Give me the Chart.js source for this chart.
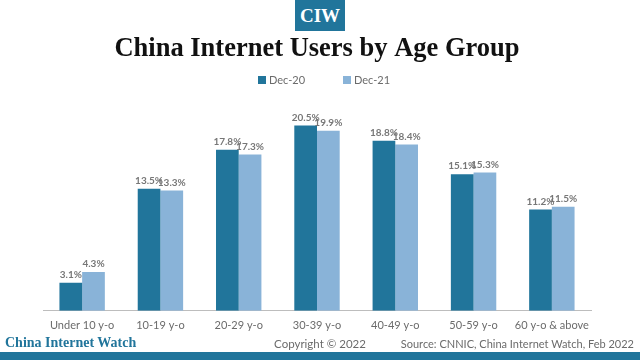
<!DOCTYPE html>
<html>
<head>
<meta charset="utf-8">
<script src="https://cdn.jsdelivr.net/npm/chart.js@4"></script>
<style>
  body { margin: 0; background: #fff; }
  #wrap { position: relative; width: 640px; height: 360px; overflow: hidden; }
  #logo { position: absolute; left: 295px; top: 0; width: 50px; height: 31px; background: #21759b;
          color: #fff; font: bold 19px 'Liberation Serif', serif; text-align: center; line-height: 31px; }
  .foot { position: absolute; top: 337px; font-size: 11px; color: #6b6b6b; font-family: Lato, sans-serif; }
  #brand { left: 5px; top: 335px; color: #21759b; font: bold 14px 'Liberation Serif', serif; }
  #copy { left: 0; width: 640px; text-align: center; font-size: 11.5px; }
  #src { right: 6px; }
  #band { position: absolute; left: 0; top: 352px; width: 640px; height: 8px; background: #21759b; }
  .leg { position: absolute; top: 73px; font: 11px Lato, sans-serif; color: #6b6b6b; }
  .leg i { display: inline-block; width: 8px; height: 8px; margin-right: 3px; vertical-align: 0px; }
</style>
</head>
<body>
<div id="wrap">
  <canvas id="chart" width="640" height="360"></canvas>
  <div id="logo">CIW</div>
  <div class="leg" style="left:258px"><i style="background:#21759b"></i>Dec-20</div>
  <div class="leg" style="left:343px"><i style="background:#89b3d8"></i>Dec-21</div>
  <div class="foot" id="brand">China Internet Watch</div>
  <div class="foot" id="copy">Copyright © 2022</div>
  <div class="foot" id="src">Source: CNNIC, China Internet Watch, Feb 2022</div>
  <div id="band"></div>
</div>
<script>
// chart data
const ageGroups = ['Under 10 y-o', '10-19 y-o', '20-29 y-o', '30-39 y-o', '40-49 y-o', '50-59 y-o', '60 y-o & above'];
const dec20 = [3.1, 13.5, 17.8, 20.5, 18.8, 15.1, 11.2];
const dec21 = [4.3, 13.3, 17.3, 19.9, 18.4, 15.3, 11.5];

// draws "x.x%" above each bar
const barLabels = {
  id: 'barLabels',
  afterDatasetsDraw(chart) {
    const ctx = chart.ctx;
    ctx.save();
    ctx.font = 'bold 10px Lato, sans-serif';
    ctx.fillStyle = '#777';
    ctx.textAlign = 'center';
    ctx.textBaseline = 'bottom';
    chart.data.datasets.forEach((ds, i) => {
      chart.getDatasetMeta(i).data.forEach((bar, j) => {
        ctx.fillText(ds.data[j].toFixed(1) + '%', bar.x, bar.y - 3);
      });
    });
    ctx.restore();
  }
};

new Chart(document.getElementById('chart'), {
  type: 'bar',
  data: {
    labels: ageGroups,
    datasets: [
      { label: 'Dec-20', data: dec20, backgroundColor: '#21759b' },
      { label: 'Dec-21', data: dec21, backgroundColor: '#89b3d8' }
    ]
  },
  options: {
    responsive: false,
    animation: false,
    layout: { padding: { top: 31, left: 43, right: 49, bottom: 20 } },
    datasets: { bar: { categoryPercentage: 0.58, barPercentage: 1.0 } },
    scales: {
      x: {
        grid: { display: false, drawTicks: false },
        border: { display: true, color: '#bdbdbd' },
        ticks: { color: '#6b6b6b', font: { family: 'Lato', size: 11 }, padding: 8,
                 maxRotation: 0, minRotation: 0, autoSkip: false }
      },
      y: { display: false, min: 0, max: 24 }
    },
    plugins: {
      title: {
        display: true,
        text: 'China Internet Users by Age Group',
        color: '#111',
        font: { family: 'Liberation Serif', size: 26.5, weight: 'bold' },
        padding: { top: 2, bottom: 29 }
      },
      legend: { display: false },
      tooltip: { enabled: false }
    }
  },
  plugins: [barLabels]
});
</script>
</body>
</html>
